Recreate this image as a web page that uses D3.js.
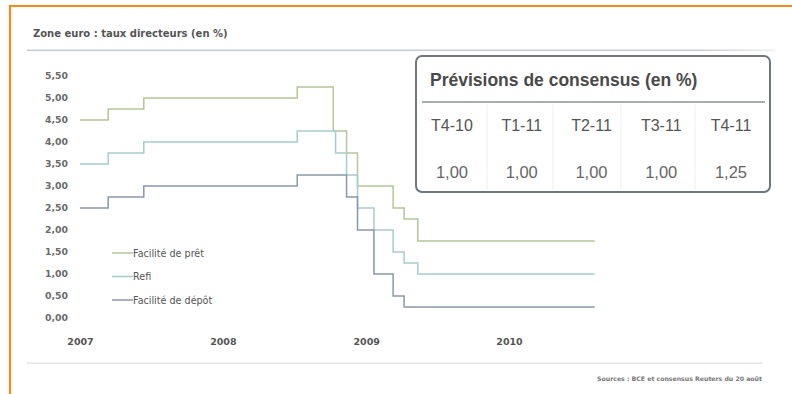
<!DOCTYPE html>
<html>
<head>
<meta charset="utf-8">
<script src="https://cdn.jsdelivr.net/npm/d3@7/dist/d3.min.js"></script>
<style>
  html, body { margin: 0; padding: 0; background: #fff; }
  svg { display: block; }
</style>
</head>
<body>
<svg id="chart" width="792" height="394"></svg>
<script>
// ECB policy rates: each entry is the date a new level took effect
const endDate = "2010-08-08";
const facilitePret = [
  ["2007-01-01", 4.50], ["2007-03-14", 4.75], ["2007-06-13", 5.00],
  ["2008-07-09", 5.25], ["2008-10-09", 4.25], ["2008-11-12", 3.75],
  ["2008-12-10", 3.00], ["2009-03-11", 2.50], ["2009-04-08", 2.25],
  ["2009-05-13", 1.75]
];
const refi = [
  ["2007-01-01", 3.50], ["2007-03-14", 3.75], ["2007-06-13", 4.00],
  ["2008-07-09", 4.25], ["2008-10-15", 3.75], ["2008-11-12", 3.25],
  ["2008-12-10", 2.50], ["2009-01-21", 2.00], ["2009-03-11", 1.50],
  ["2009-04-08", 1.25], ["2009-05-13", 1.00]
];
const faciliteDepot = [
  ["2007-01-01", 2.50], ["2007-03-14", 2.75], ["2007-06-13", 3.00],
  ["2008-07-09", 3.25], ["2008-11-12", 2.75], ["2008-12-10", 2.00],
  ["2009-01-21", 1.00], ["2009-03-11", 0.50], ["2009-04-08", 0.25]
];
const seriesNames = ["Facilité de prêt", "Refi", "Facilité de dépôt"];
const seriesColors = ["#b3c797", "#a6cbcf", "#8898ad"];

const yTicks = [0, 0.5, 1, 1.5, 2, 2.5, 3, 3.5, 4, 4.5, 5, 5.5];
const xTickYears = [2007, 2008, 2009, 2010];

// Consensus forecast table
const quarters = ["T4-10", "T1-11", "T2-11", "T3-11", "T4-11"];
const forecasts = [1.00, 1.00, 1.00, 1.00, 1.25];

const FONT = "DejaVu Sans, Verdana, sans-serif";
const TFONT = "Liberation Sans, Arial, Helvetica, sans-serif";
const svg = d3.select("#chart");
const parse = d3.utcParse("%Y-%m-%d");
const fr = d3.formatLocale({ decimal: ",", thousands: " ", grouping: [3], currency: ["", " €"] });
const fmt2 = fr.format(".2f");

// Frame
svg.append("line").attr("x1", 10).attr("x2", 792).attr("y1", 6).attr("y2", 6)
  .attr("stroke", "#f28a1c").attr("stroke-width", 2.2);
svg.append("line").attr("x1", 10).attr("x2", 10).attr("y1", 5).attr("y2", 394)
  .attr("stroke", "#f28a1c").attr("stroke-width", 2.2);

// Title and rules
svg.append("text").attr("x", 33).attr("y", 37)
  .attr("font-family", FONT).attr("font-size", 10)
  .attr("font-weight", "bold").attr("fill", "#555")
  .text("Zone euro : taux directeurs (en %)");
const grad = svg.append("defs").append("linearGradient").attr("id", "rule");
grad.append("stop").attr("offset", "0%").attr("stop-color", "#c8ccd0");
grad.append("stop").attr("offset", "90%").attr("stop-color", "#c8ccd0");
grad.append("stop").attr("offset", "100%").attr("stop-color", "#eef0f2");
svg.append("rect").attr("x", 27).attr("y", 49.5).attr("width", 748).attr("height", 1.6).attr("fill", "url(#rule)");
svg.append("rect").attr("x", 27).attr("y", 362.5).attr("width", 736).attr("height", 1.2).attr("fill", "#dcdfe2");

// Scales
const x = d3.scaleUtc().domain([parse("2007-01-01"), parse("2010-01-01")]).range([80, 509]);
const y = d3.scaleLinear().domain([0, 5.5]).range([318, 76]);

// Y axis labels
const yAxis = svg.append("g").attr("transform", "translate(70,0)")
  .call(d3.axisLeft(y).tickValues(yTicks).tickFormat(fmt2).tickSize(0).tickPadding(2));
yAxis.select(".domain").remove();
yAxis.selectAll("text").attr("font-family", FONT)
  .attr("font-size", 9.3).attr("font-weight", "bold").attr("fill", "#6a6a6a");

// X axis labels
const xAxis = svg.append("g").attr("transform", "translate(0,335)")
  .call(d3.axisBottom(x).tickValues(xTickYears.map(yr => parse(yr + "-01-01")))
    .tickFormat(d3.utcFormat("%Y")).tickSize(0).tickPadding(3));
xAxis.select(".domain").remove();
xAxis.selectAll("text").attr("font-family", FONT)
  .attr("font-size", 9.5).attr("font-weight", "bold").attr("fill", "#555");

// Step lines
const line = d3.line().x(d => x(d[0])).y(d => y(d[1])).curve(d3.curveStepAfter);
[facilitePret, refi, faciliteDepot].forEach((s, i) => {
  const pts = s.map(d => [parse(d[0]), d[1]]);
  pts.push([parse(endDate), s[s.length - 1][1]]);
  svg.append("path").datum(pts).attr("d", line)
    .attr("fill", "none").attr("stroke", seriesColors[i]).attr("stroke-width", 1.5);
});

// Legend
const legend = svg.append("g").attr("transform", "translate(112,253)");
seriesNames.forEach((n, i) => {
  const g = legend.append("g").attr("transform", `translate(0,${i * 23.5})`);
  g.append("line").attr("x1", 0).attr("x2", 21).attr("y1", 0).attr("y2", 0)
    .attr("stroke", seriesColors[i]).attr("stroke-width", 1.5);
  g.append("text").attr("x", 21).attr("y", 3.5)
    .attr("font-family", FONT).attr("font-size", 9.6)
    .attr("fill", "#555").text(n);
});

// Consensus table
const tbl = svg.append("g");
tbl.append("rect").attr("x", 416).attr("y", 56).attr("width", 354).attr("height", 136)
  .attr("rx", 6).attr("fill", "#fff").attr("stroke", "#6f767d").attr("stroke-width", 2);
tbl.append("text").attr("x", 430).attr("y", 85.5)
  .attr("font-family", TFONT).attr("font-size", 17.5)
  .attr("font-weight", "bold").attr("fill", "#4a4a4a")
  .text("Prévisions de consensus (en %)");
tbl.append("line").attr("x1", 422).attr("x2", 765).attr("y1", 102).attr("y2", 102)
  .attr("stroke", "#8a9096").attr("stroke-width", 1.3);
const colX = d3.scalePoint().domain(quarters).range([452, 731]);
const dividers = [487, 553, 621, 695];
dividers.forEach(dx => tbl.append("line").attr("x1", dx).attr("x2", dx).attr("y1", 104).attr("y2", 190)
  .attr("stroke", "#eceeef").attr("stroke-width", 1));
quarters.forEach((q, i) => {
  tbl.append("text").attr("x", colX(q)).attr("y", 131).attr("text-anchor", "middle")
    .attr("font-family", TFONT).attr("font-size", 16)
    .attr("fill", "#555").text(q);
  tbl.append("text").attr("x", colX(q)).attr("y", 178).attr("text-anchor", "middle")
    .attr("font-family", TFONT).attr("font-size", 16.5)
    .attr("fill", "#666").text(fmt2(forecasts[i]));
});

// Source
svg.append("text").attr("x", 762).attr("y", 381).attr("text-anchor", "end")
  .attr("font-family", FONT).attr("font-size", 6.2)
  .attr("font-weight", "bold").attr("fill", "#777")
  .text("Sources : BCE et consensus Reuters du 20 août");
</script>
</body>
</html>
